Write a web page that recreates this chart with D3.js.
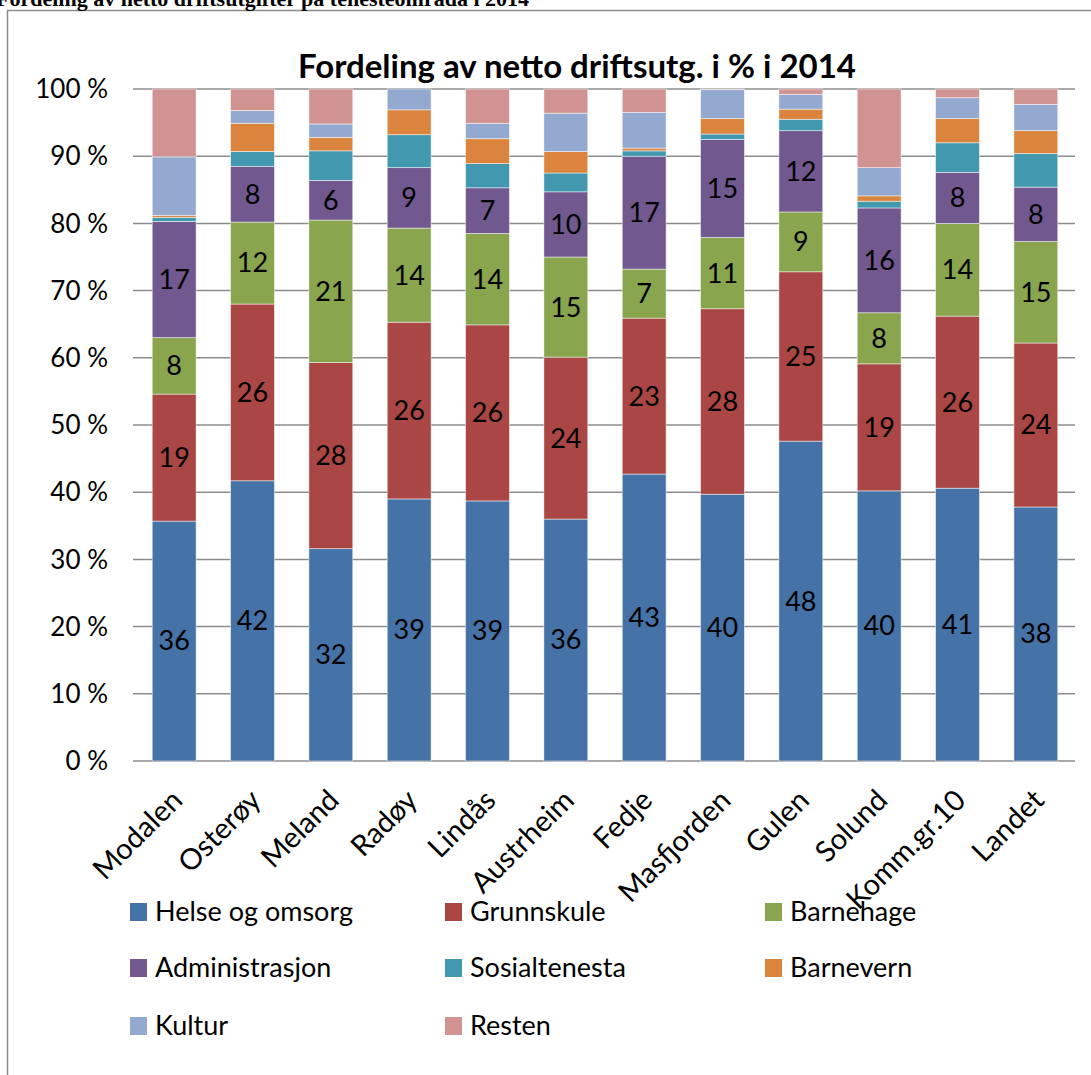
<!DOCTYPE html>
<html lang="no">
<head>
<meta charset="UTF-8">
<title>Fordeling av netto driftsutg.</title>
<script src="https://d3js.org/d3.v7.min.js"></script>
<style>
    body { margin: 0; background: #fff; font-family: Lato, "Open Sans", sans-serif; }
    svg { display: block; }
    .grid line { stroke: #8c8c8c; stroke-width: 1.5px; }
    .ytick { font-size: 26px; fill: #000; }
    .xtick { font-size: 29px; fill: #000; }
    .seglabel { font-size: 27px; fill: #000; }
    .legend text { font-size: 27px; fill: #000; }
</style>
</head>
<body>
<svg id="chart"></svg>
<script>
    const categories = ["Modalen", "Osterøy", "Meland", "Radøy", "Lindås", "Austrheim",
        "Fedje", "Masfjorden", "Gulen", "Solund", "Komm.gr.10", "Landet"];
    const seriesNames = ["Helse og omsorg", "Grunnskule", "Barnehage", "Administrasjon",
        "Sosialtenesta", "Barnevern", "Kultur", "Resten"];
    const colors = ["#4572A7", "#AA4643", "#89A54E", "#71588F", "#4198AF", "#DB843D", "#93A9CF", "#D19392"];

    // prosent per kommune, lest av figuren
    const helse        = [35.7, 41.7, 31.6, 39.0, 38.7, 36.0, 42.7, 39.7, 47.6, 40.2, 40.6, 37.8];
    const grunnskule   = [18.9, 26.3, 27.7, 26.3, 26.2, 24.1, 23.2, 27.6, 25.2, 18.9, 25.6, 24.4];
    const barnehage    = [8.4, 12.2, 21.2, 14.0, 13.6, 14.9, 7.3, 10.6, 8.9, 7.6, 13.8, 15.1];
    const admin        = [17.3, 8.3, 5.9, 9.0, 6.8, 9.7, 16.8, 14.6, 12.1, 15.6, 7.6, 8.1];
    const sosial       = [0.6, 2.2, 4.4, 4.9, 3.6, 2.8, 0.8, 0.8, 1.7, 1.0, 4.4, 5.0];
    const barnevern    = [0.3, 4.2, 2.0, 3.7, 3.7, 3.2, 0.4, 2.3, 1.5, 0.8, 3.6, 3.4];
    const kultur       = [8.7, 1.9, 2.0, 3.1, 2.3, 5.7, 5.3, 4.3, 2.2, 4.2, 3.1, 3.9];
    const resten       = [10.1, 3.2, 5.2, 0.0, 5.1, 3.6, 3.5, 0.1, 0.8, 11.7, 1.3, 2.3];
    const yTicks = [0, 10, 20, 30, 40, 50, 60, 70, 80, 90, 100];
    const labelledSeries = 4;

    const seriesValues = [helse, grunnskule, barnehage, admin, sosial, barnevern, kultur, resten];
    const rows = categories.map((c, i) => {
        const r = {cat: c};
        seriesNames.forEach((s, k) => r[s] = seriesValues[k][i]);
        return r;
    });

    const width = 1091, height = 1075;
    const svg = d3.select("#chart").attr("width", width).attr("height", height);

    // ramme og avkutta overskrift
    svg.append("rect").attr("x", 7.5).attr("y", 10.5).attr("width", width).attr("height", height)
        .attr("fill", "none").attr("stroke", "#8c8c8c").attr("stroke-width", 1.5);
    svg.append("text").attr("x", -4).attr("y", 6)
        .style("font-family", "'Liberation Serif', serif").style("font-weight", "bold").style("font-size", "22px")
        .text("Fordeling av netto driftsutgifter på tenesteområda i 2014");

    const x = d3.scaleBand().domain(categories).range([135, 1075]).paddingInner(0.44).paddingOuter(0.22);
    const y = d3.scaleLinear().domain([0, 100]).range([761, 89]);

    const stack = d3.stack().keys(seriesNames).offset(d3.stackOffsetExpand);
    const stacked = stack(rows);

    svg.append("text").attr("x", 577).attr("y", 78).attr("text-anchor", "middle")
        .style("font-size", "33px").style("font-weight", "bold")
        .text("Fordeling av netto driftsutg. i % i 2014");

    const grid = svg.append("g").attr("class", "grid");
    grid.selectAll("line").data(yTicks).join("line")
        .attr("x1", 133).attr("x2", 1075)
        .attr("y1", d => y(d)).attr("y2", d => y(d));

    svg.append("g").selectAll("text").data(yTicks).join("text")
        .attr("class", "ytick")
        .attr("x", 108).attr("y", d => y(d)).attr("dy", "0.35em")
        .attr("text-anchor", "end")
        .text(d => d + " %");

    const layers = svg.append("g").selectAll("g").data(stacked).join("g")
        .attr("fill", (d, i) => colors[i]);
    layers.selectAll("rect").data(d => d).join("rect")
        .attr("x", d => x(d.data.cat))
        .attr("width", x.bandwidth())
        .attr("y", d => y(d[1] * 100))
        .attr("height", d => y(d[0] * 100) - y(d[1] * 100))
        .attr("stroke", "#fff").attr("stroke-width", 0.8).attr("stroke-opacity", 0.6);

    // etikettar for dei fire største postane
    stacked.slice(0, labelledSeries).forEach((layer, k) => {
        svg.append("g").selectAll("text").data(layer).join("text")
            .attr("class", "seglabel")
            .attr("x", d => x(d.data.cat) + x.bandwidth() / 2)
            .attr("y", d => y((d[0] + d[1]) * 50))
            .attr("dy", "0.35em")
            .attr("text-anchor", "middle")
            .text(d => Math.round(seriesValues[k][categories.indexOf(d.data.cat)]));
    });

    svg.append("g").selectAll("text").data(categories).join("text")
        .attr("class", "xtick")
        .attr("text-anchor", "end")
        .attr("transform", d => `translate(${x(d) + x.bandwidth() / 2 + 10},${802}) rotate(-45)`)
        .text(d => d);

    const legend = svg.append("g").attr("class", "legend");
    const colX = [130, 445, 765], rowY = [912, 968, 1026];
    seriesNames.forEach((s, i) => {
        const g = legend.append("g")
            .attr("transform", `translate(${colX[i % 3]},${rowY[Math.floor(i / 3)]})`);
        g.append("rect").attr("x", 0).attr("y", -9).attr("width", 17).attr("height", 18).attr("fill", colors[i]);
        g.append("text").attr("x", 25).attr("dy", "0.35em").text(s);
    });
</script>
</body>
</html>
